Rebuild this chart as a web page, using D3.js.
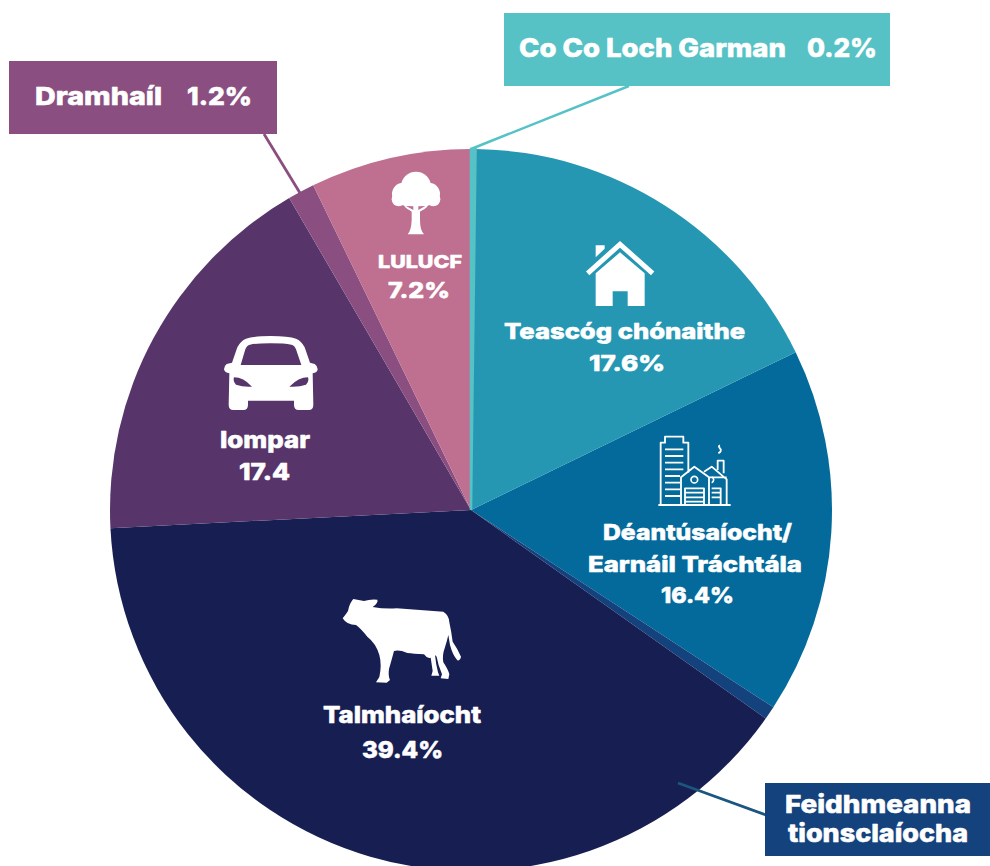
<!DOCTYPE html>
<html><head><meta charset="utf-8">
<script src="https://cdn.jsdelivr.net/npm/d3@7"></script>
<style>html,body{margin:0;padding:0;background:#fff;overflow:hidden}svg{display:block}
text{font-family:Inter,Lato,"Open Sans",sans-serif;font-weight:800;fill:#fff;stroke:#fff;stroke-width:.55px;stroke-linejoin:round}</style>
</head><body><svg id="c" width="990" height="866"></svg>
<script>
const categories = ["Co Co Loch Garman","Teascóg chónaithe","Déantúsaíocht/ Earnáil Tráchtála","Feidhmeanna tionsclaíocha","Talmhaíocht","Iompar","Dramhaíl","LULUCF"];
const shares = [0.2,17.6,16.4,0.6,39.4,17.4,1.2,7.2];
const colours = ["#56c2c5","#2597b3","#036a9b","#14427c","#171f52","#57346a","#8a4f80","#bf6f8f"];

const svg = d3.select("#c");
const cx = 471, cy = 510, R = 361;
const pie = d3.pie().sort(null).value(d=>d)(shares);
const arc = d3.arc().innerRadius(0).outerRadius(R);
const colour = d3.scaleOrdinal().domain(categories).range(colours);

const pieG = svg.append("g").attr("transform",`translate(${cx},${cy})`);
pieG.selectAll("path").data(pie).join("path")
  .attr("d",arc).attr("fill",(d,i)=>colour(categories[i]))
  .attr("stroke",(d,i)=>i===0?colours[0]:"none").attr("stroke-width",(d,i)=>i===0?2.5:0);
pieG.selectAll("path").filter((d,i)=>i===1).raise();
pieG.selectAll("path").filter((d,i)=>i===0).raise();

// leader lines
[[629,86,471,149,colours[0],2.5],[264,134,300,193,colours[6],2.8],[678,783,766,815,"#1b5680",2.8]]
 .forEach(l=>svg.append("line").attr("x1",l[0]).attr("y1",l[1]).attr("x2",l[2]).attr("y2",l[3]).attr("stroke",l[4]).attr("stroke-width",l[5]));

// callout boxes
[[504,13,386,73,colours[0]],[9,61,268,73,colours[6]],[765,783,225,73,colours[3]]]
 .forEach(b=>svg.append("rect").attr("x",b[0]).attr("y",b[1]).attr("width",b[2]).attr("height",b[3]).attr("fill",b[4]));

// text: string, x0, x1, baseline, size
const labels = [
 ["Co Co Loch Garman",519,786,57,26],["0.2%",807,877,57,26],
 ["Dramhaíl",35,162,105,25],["1.2%",187,252,105,25],
 ["Feidhmeanna",785,971,813,25],["tionsclaíocha",788,968,842,25],
 ["LULUCF",378,462,268,18],["7.2%",388,450,298,22],
 ["Teascóg chónaithe",504,745,339,22],["17.6%",589,665,371,22],
 ["Déantúsaíocht/",603,792,540,22],["Earnáil Tráchtála",588,802,572,22],["16.4%",661,734,603,22],
 ["Talmhaíocht",323,481,723,23],["39.4%",362,443,758,23],
 ["Iompar",220,310,448,23],["17.4",239,290,480,23]
];
labels.forEach(t=>svg.append("text").text(t[0]).attr("x",t[1]).attr("y",t[3]).attr("font-size",t[4])
  .attr("textLength",t[2]-t[1]).attr("lengthAdjust","spacingAndGlyphs"));

// icons (drawn in 3x crop units)
function icon(x,y){return svg.append("g").attr("transform",`translate(${x},${y}) scale(${1/3})`);}
// tree
const tree = icon(340,0);
[[228,560,45],[190,582,34],[266,582,34],[176,598,21],[280,598,21],[228,590,45]]
 .forEach(c=>tree.append("circle").attr("cx",c[0]).attr("cy",c[1]).attr("r",c[2]).attr("fill","#fff"));
tree.append("path").attr("fill","#fff").attr("d","M215,612 L215,660 Q214,690 203,703 L252,703 Q240,690 240,660 L240,612 Z M195,618 L215,635 L215,620 Z M260,618 L240,635 L240,620 Z");
tree.append("path").attr("fill",colours[7]).attr("d","M198,618 L220,630 L220,619 Z M256,618 L235,630 L235,619 Z");
// house
const house = icon(340,0);
house.append("path").attr("fill","#fff").attr("d","M767,736 L794,736 L794,746 L767,772 Z");
house.append("path").attr("fill","none").attr("stroke","#fff").attr("stroke-width",15).attr("d","M743,820 L840,733 L938,820");
house.append("path").attr("fill","#fff").attr("fill-rule","evenodd").attr("d","M767,820 L840,757 L914,820 L914,918 L863,918 L863,874 L818,874 L818,918 L767,918 Z");
// factory
const fac = icon(570,420);
fac.append("path").attr("fill","none").attr("stroke","#fff").attr("stroke-width",5.5).attr("stroke-linejoin","round").attr("d",
 "M265,255 L482,255 M272,253 L272,68 L285,68 L285,50 L340,50 L340,68 L355,68 L355,158 "+
 "M285,88 L340,88 M285,108 L340,108 M285,128 L340,128 M285,148 L340,148 M285,168 L330,168 M285,188 L330,188 M285,208 L330,208 M285,228 L330,228 "+
 "M333,253 L333,172 L373,140 L417,172 L417,253 M345,253 L345,205 L402,205 L402,253 M345,218 L402,218 M345,232 L402,232 M345,245 L402,245 "+
 "M402,155 L425,140 L470,178 L470,253 M417,172 L470,172 M425,205 L452,205 L452,253 M425,218 L452,218 M425,232 L452,232 "+
 "M443,150 L443,122 L461,122 L461,160 M445,100 Q458,92 449,84 Q444,78 450,76");
fac.append("circle").attr("cx",373).attr("cy",179).attr("r",10).attr("fill","none").attr("stroke","#fff").attr("stroke-width",5);
fac.append("path").attr("fill","none").attr("stroke","#fff").attr("stroke-width",5).attr("d","M425,171 A9,9 0 0 1 425,188");
// car
const car = icon(0,50);
car.append("path").attr("fill","#fff").attr("d","M812,858 Q760,858 738,866 Q722,872 712,892 L696,938 L680,942 Q672,948 672,958 Q674,968 688,970 L686,1064 Q686,1080 700,1080 L730,1080 Q744,1080 744,1064 L744,1052 L882,1052 L882,1064 Q882,1080 896,1080 L926,1080 Q940,1080 940,1064 L938,970 Q952,968 953,958 Q953,948 944,942 L930,938 L914,892 Q904,872 888,866 Q866,858 812,858 Z");
car.append("path").attr("fill",colours[5]).attr("d","M812,880 Q770,880 750,884 Q740,886 736,898 L722,945 L904,945 L888,898 Q884,886 874,884 Q854,880 812,880 Z");
car.append("path").attr("fill",colours[5]).attr("d","M702,982 Q730,982 756,1010 Q730,1012 708,1004 Q698,996 702,982 Z M924,982 Q896,982 868,1010 Q896,1012 918,1004 Q928,996 924,982 Z");
// cow
const cow = icon(320,585);
cow.append("path").attr("fill","#fff").attr("d","M68,100 Q78,88 84,78 Q88,55 100,42 L132,48 Q150,42 172,44 Q176,52 158,66 Q190,72 230,70 Q300,76 370,80 Q388,92 388,112 Q394,140 398,170 Q412,190 423,215 Q420,228 412,226 Q398,210 390,180 L385,150 Q380,172 374,190 Q366,212 370,232 Q385,255 388,268 L385,282 L362,280 L366,268 Q354,240 350,215 L345,210 Q348,240 354,262 L358,272 L334,272 L338,258 Q334,230 332,218 Q322,222 312,208 Q280,206 262,204 Q238,194 222,198 Q214,228 207,252 Q204,272 210,285 L200,293 L168,292 L178,276 Q186,240 178,210 Q168,175 142,155 Q120,128 108,120 Q80,120 68,100 Z");
</script></body></html>
